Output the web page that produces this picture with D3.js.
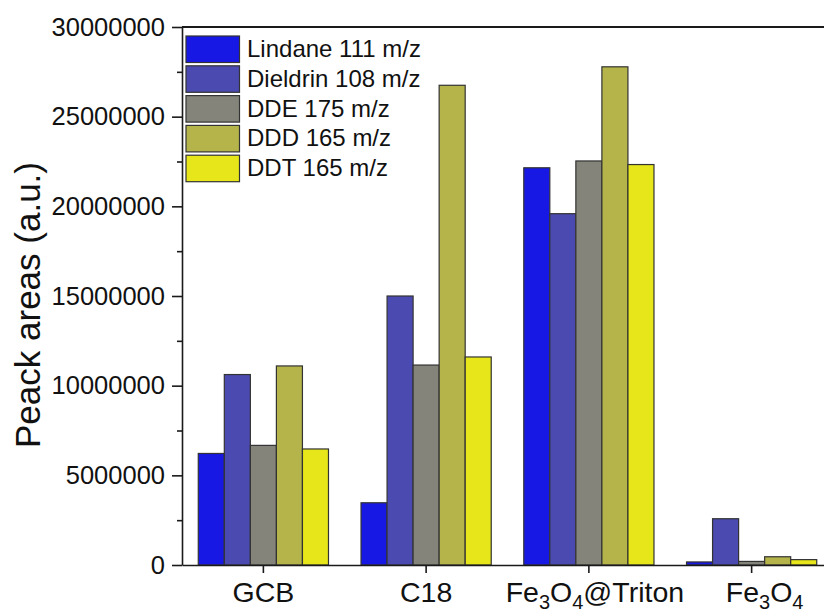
<!DOCTYPE html>
<html>
<head>
<meta charset="utf-8">
<script src="https://cdn.jsdelivr.net/npm/d3@7"></script>
<style>
  body { margin: 0; background: #fff; }
  svg { font-family: "Liberation Sans", Arial, sans-serif; }
  .axis path, .axis line { stroke: #1a1a1a; stroke-width: 1.6; }
  .axis text { fill: #111; }
</style>
</head>
<body>
<svg id="chart" width="824" height="610"></svg>
<script>
// data
const categories = ['GCB', 'C18', 'Fe3O4@Triton', 'Fe3O4'];
const seriesNames = ['Lindane 111 m/z', 'Dieldrin 108 m/z', 'DDE 175 m/z', 'DDD 165 m/z', 'DDT 165 m/z'];
const lindane  = [6220000, 3470000, 22150000, 170000];
const dieldrin = [10620000, 15000000, 19590000, 2580000];
const dde      = [6670000, 11150000, 22530000, 200000];
const ddd      = [11100000, 26750000, 27780000, 460000];
const ddt      = [6470000, 11600000, 22330000, 300000];
const seriesValues = [lindane, dieldrin, dde, ddd, ddt];
const colors = ['#1818e4', '#4a4ab0', '#84847a', '#b4b44a', '#e6e61a'];
const yTicks = [0, 5000000, 10000000, 15000000, 20000000, 25000000, 30000000];

const plot = {left: 182, right: 833, top: 27, bottom: 565};

let svg = d3.select('#chart');

let x = d3.scaleBand()
    .domain(categories)
    .range([plot.left, plot.right])
    .paddingInner(0.2)
    .paddingOuter(0.1);

let xSub = d3.scaleBand()
    .domain(d3.range(seriesNames.length))
    .range([0, x.bandwidth()]);

let y = d3.scaleLinear()
    .domain([0, 30000000])
    .range([plot.bottom, plot.top]);

renderBars();
renderYAxis();
renderXAxis();
renderFrame();
renderLegend();

function renderBars(){
    let groups = svg.append('g').selectAll('g')
        .data(categories)
        .join('g')
        .attr('transform', d => `translate(${x(d)},0)`);

    groups.selectAll('rect')
        .data((d, i) => seriesValues.map((s, k) => ({k: k, v: s[i]})))
        .join('rect')
        .attr('x', d => xSub(d.k))
        .attr('width', xSub.bandwidth())
        .attr('y', d => y(d.v))
        .attr('height', d => y(0) - y(d.v))
        .attr('fill', d => colors[d.k])
        .attr('stroke', '#333')
        .attr('stroke-width', 1.2);
}

function renderYAxis(){
    // minor ticks first
    let minor = d3.range(2500000, 30000000, 5000000);
    svg.append('g')
        .attr('class', 'axis')
        .attr('transform', `translate(${plot.left},0)`)
        .call(d3.axisLeft(y).tickValues(minor).tickSize(5).tickFormat(''))
        .select('.domain').remove();

    let g = svg.append('g')
        .attr('class', 'axis')
        .attr('transform', `translate(${plot.left},0)`)
        .call(d3.axisLeft(y).tickValues(yTicks).tickSize(10).tickSizeOuter(0).tickPadding(7).tickFormat(d3.format('d')));
    g.selectAll('text').attr('font-size', 25.5);

    svg.append('text')
        .attr('transform', `translate(40, ${(plot.top + plot.bottom) / 2 + 9}) rotate(-90)`)
        .attr('text-anchor', 'middle')
        .attr('font-size', 35)
        .attr('fill', '#111')
        .text('Peack areas (a.u.)');
}

function renderXAxis(){
    let g = svg.append('g')
        .attr('class', 'axis')
        .attr('transform', `translate(0,${plot.bottom})`)
        .call(d3.axisBottom(x).tickSize(8).tickSizeOuter(0).tickFormat(''));

    g.selectAll('g.tick')
        .append('text')
        .attr('y', 37)
        .attr('font-size', 28.5)
        .attr('text-anchor', 'middle')
        .each(function(d){
            let t = d3.select(this);
            // Fe3O4 labels get subscript digits
            let parts = d.startsWith('Fe') ? d.split(/(\d)/).filter(p => p.length) : [d];
            if (d.startsWith('Fe')) t.attr('dx', d === 'Fe3O4' ? 13 : 6);
            let prevSub = false;
            parts.forEach(p => {
                let sub = /^\d$/.test(p);
                t.append('tspan')
                    .attr('font-size', sub ? 20 : 28.5)
                    .attr('dy', (sub ? 7 : 0) - (prevSub ? 7 : 0))
                    .text(p);
                prevSub = sub;
            });
        });
}

function renderFrame(){
    svg.append('line')
        .attr('x1', plot.left).attr('x2', 824)
        .attr('y1', plot.top).attr('y2', plot.top)
        .attr('stroke', '#1a1a1a').attr('stroke-width', 1.8);

    // right axis sits just off the picture, only its inward ticks peek in
    svg.append('g')
        .attr('class', 'axis')
        .attr('transform', `translate(835,0)`)
        .call(d3.axisRight(y).tickValues(yTicks).tickSize(-11).tickFormat(''))
        .selectAll('line').attr('stroke', '#ddd');
}

function renderLegend(){
    let lg = svg.append('g')
        .attr('transform', 'translate(186,36)');

    let rows = lg.selectAll('g')
        .data(seriesNames)
        .join('g')
        .attr('transform', (d, i) => `translate(0,${i * 29.8})`);

    rows.append('rect')
        .attr('width', 53.5)
        .attr('height', 26.5)
        .attr('fill', (d, i) => colors[i])
        .attr('stroke', '#333')
        .attr('stroke-width', 1.2);

    rows.append('text')
        .attr('x', 61)
        .attr('y', 21)
        .attr('font-size', 24)
        .attr('fill', '#111')
        .text(d => d);
}
</script>
</body>
</html>
